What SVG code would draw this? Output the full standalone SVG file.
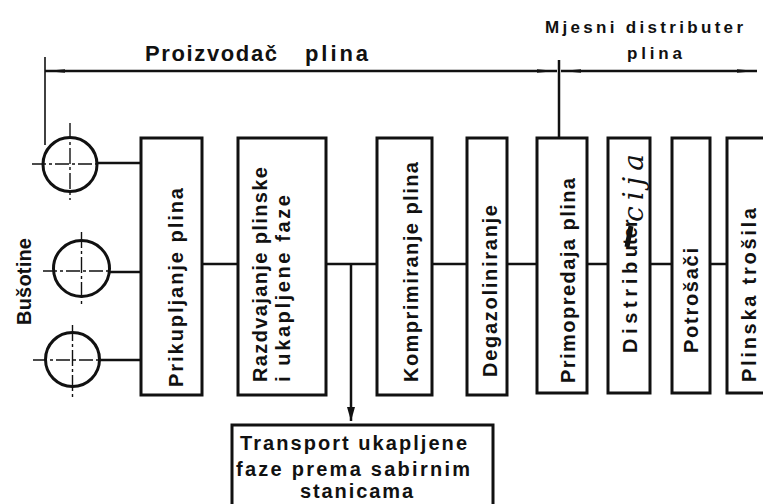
<svg xmlns="http://www.w3.org/2000/svg" width="763" height="504" viewBox="0 0 763 504">
<defs>
<style>
.box{fill:#fff;stroke:#111;stroke-width:3}
.ln{stroke:#111;stroke-width:2.5;fill:none}
.thin{stroke:#111;stroke-width:1.6;fill:none}
.cross{stroke:#111;stroke-width:1.4;fill:none}
.circ{fill:none;stroke:#111;stroke-width:3}
.t{font-family:"Liberation Sans","DejaVu Sans",sans-serif;fill:#111;font-weight:bold}
.h{font-family:"DejaVu Serif","Liberation Serif",serif;font-style:italic;fill:#111}
</style>
<marker id="dimR" viewBox="0 0 20 6" refX="20" refY="3" markerWidth="20" markerHeight="6" markerUnits="userSpaceOnUse" orient="auto">
<path d="M0,1.2 L20,3 L0,4.8 Z" fill="#111"/>
</marker>
<marker id="dimL" viewBox="0 0 20 6" refX="0" refY="3" markerWidth="20" markerHeight="6" markerUnits="userSpaceOnUse" orient="auto">
<path d="M20,1.2 L0,3 L20,4.8 Z" fill="#111"/>
</marker>
<marker id="arrD" viewBox="0 0 14 8" refX="14" refY="4" markerWidth="14" markerHeight="8" markerUnits="userSpaceOnUse" orient="auto">
<path d="M0,0 L14,4 L0,8 Z" fill="#111"/>
</marker>
</defs>
<rect width="763" height="504" fill="#fff"/>

<g id="labels">
<text class="t" x="145" y="61" font-size="22" textLength="132" lengthAdjust="spacing">Proizvodač</text>
<text class="t" x="305" y="61" font-size="22" textLength="63" lengthAdjust="spacing">plina</text>
<text class="t" x="545" y="33" font-size="17" textLength="198" lengthAdjust="spacing">Mjesni distributer</text>
<text class="t" x="627" y="59" font-size="17" textLength="55" lengthAdjust="spacing">plina</text>
</g>

<g id="connectors">
<line class="ln" x1="45" y1="71" x2="557" y2="71" marker-start="url(#dimL)" marker-end="url(#dimR)"/>
<line class="ln" x1="561" y1="71" x2="757" y2="71" marker-start="url(#dimL)" marker-end="url(#dimR)"/>
<line class="ln" x1="559" y1="60" x2="559" y2="138"/>
<line class="thin" x1="45" y1="57" x2="45" y2="145"/>
<line class="ln" x1="97" y1="163" x2="141" y2="163"/>
<line class="ln" x1="110" y1="272" x2="141" y2="272"/>
<line class="ln" x1="100" y1="360" x2="141" y2="360"/>
<line class="ln" x1="202" y1="264" x2="238" y2="264"/>
<line class="ln" x1="326" y1="264" x2="377" y2="264"/>
<line class="ln" x1="432" y1="264" x2="467" y2="264"/>
<line class="ln" x1="507" y1="264" x2="537" y2="264"/>
<line class="ln" x1="587" y1="264" x2="608" y2="264"/>
<line class="ln" x1="650" y1="264" x2="672" y2="264"/>
<line class="ln" x1="710" y1="264" x2="727" y2="264"/>
<line class="ln" x1="351" y1="264" x2="351" y2="421" marker-end="url(#arrD)"/>
</g>

<g id="busotine">
<circle class="circ" cx="70" cy="164.5" r="27"/>
<line class="cross" x1="32" y1="164" x2="98" y2="164" stroke-dasharray="14,3,3,3"/>
<line class="cross" x1="70" y1="123" x2="70" y2="200" stroke-dasharray="16,3,3,3"/>
<circle class="circ" cx="81.5" cy="268.5" r="28"/>
<line class="cross" x1="43" y1="271" x2="110" y2="271" stroke-dasharray="14,3,3,3"/>
<line class="cross" x1="81.5" y1="232" x2="81.5" y2="307" stroke-dasharray="16,3,3,3"/>
<circle class="circ" cx="72.5" cy="359.5" r="27"/>
<line class="cross" x1="33" y1="360" x2="100" y2="360" stroke-dasharray="14,3,3,3"/>
<line class="cross" x1="72.5" y1="325" x2="72.5" y2="397" stroke-dasharray="16,3,3,3"/>
<text class="t" transform="translate(31,325) rotate(-90)" font-size="20" textLength="87" lengthAdjust="spacing">Bušotine</text>
</g>

<g id="n1">
<rect class="box" x="141" y="138" width="61" height="257"/>
<text class="t" transform="translate(183,387) rotate(-90)" font-size="20" textLength="199" lengthAdjust="spacing">Prikupljanje  plina</text>
</g>
<g id="n2">
<rect class="box" x="238" y="138" width="88" height="257"/>
<text class="t" transform="translate(267,382) rotate(-90)" font-size="20" textLength="215" lengthAdjust="spacing">Razdvajanje  plinske</text>
<text class="t" transform="translate(290,382) rotate(-90)" font-size="20" textLength="187" lengthAdjust="spacing">i ukapljene  faze</text>
</g>
<g id="n3">
<rect class="box" x="377" y="138" width="55" height="257"/>
<text class="t" transform="translate(418,382) rotate(-90)" font-size="20" textLength="220" lengthAdjust="spacing">Komprimiranje  plina</text>
</g>
<g id="n4">
<rect class="box" x="467" y="138" width="40" height="257"/>
<text class="t" transform="translate(497,377) rotate(-90)" font-size="20" textLength="172" lengthAdjust="spacing">Degazoliniranje</text>
</g>
<g id="n5">
<rect class="box" x="537" y="138" width="50" height="255"/>
<text class="t" transform="translate(575,383) rotate(-90)" font-size="20" textLength="205" lengthAdjust="spacing">Primopredaja  plina</text>
</g>
<g id="n6">
<rect class="box" x="608" y="138" width="42" height="255"/>
<text class="t" transform="translate(637,353) rotate(-90)" font-size="20" textLength="108" lengthAdjust="spacing">Distribu</text>
<text class="t" transform="translate(637,245) rotate(-90)" font-size="20">ter</text>
<line x1="627" y1="247" x2="631" y2="226" stroke="#111" stroke-width="5"/>
<text class="h" transform="translate(643,222) rotate(-90)" font-size="28" textLength="68" lengthAdjust="spacing">cija</text>
</g>
<g id="n7">
<rect class="box" x="672" y="138" width="38" height="255"/>
<text class="t" transform="translate(698,353) rotate(-90)" font-size="20" textLength="105" lengthAdjust="spacing">Potrošači</text>
</g>
<g id="n8">
<rect class="box" x="727" y="138" width="50" height="255"/>
<text class="t" transform="translate(756,382) rotate(-90)" font-size="20" textLength="174" lengthAdjust="spacing">Plinska  trošila</text>
</g>

<g id="n9">
<rect class="box" x="232" y="425" width="261" height="90"/>
<text class="t" x="240" y="450" font-size="20" textLength="227" lengthAdjust="spacing">Transport   ukapljene</text>
<text class="t" x="236" y="476" font-size="20" textLength="234" lengthAdjust="spacing">faze prema  sabirnim</text>
<text class="t" x="300" y="498" font-size="20" textLength="113" lengthAdjust="spacing">stanicama</text>
</g>
</svg>
